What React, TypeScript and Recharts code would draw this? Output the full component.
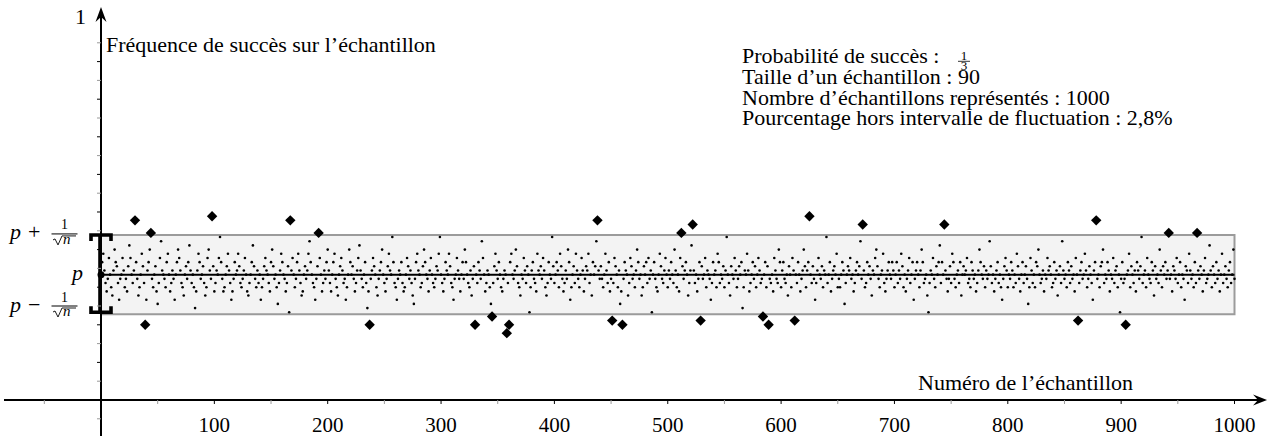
import React from 'react';
import { ScatterChart, Scatter, XAxis, YAxis, ReferenceArea, ReferenceLine, ReferenceDot, Customized } from 'recharts';

const FONT = '"Liberation Serif", "Times New Roman", serif';

const SAMPLE_SIZE = 90;
const PROBA = 1 / 3;
const HALF = 1 / Math.sqrt(SAMPLE_SIZE);
const LOW = PROBA - HALF;
const HIGH = PROBA + HALF;

// number of successes in each sample of 90 draws, samples 1..1000
const successes: number[] = [
    33, 35, 31, 28, 26, 29, 34, 30, 27, 25, 31, 36, 33, 32, 28, 24, 29, 30, 34, 31,
    27, 29, 26, 32, 37, 34, 30, 28, 31, 43, 33, 29, 25, 27, 30, 35, 32, 28, 18, 24,
    31, 33, 36, 40, 29, 27, 30, 32, 26, 23, 28, 34, 38, 31, 30, 29, 27, 33, 35, 30,
    26, 28, 31, 29, 24, 30, 33, 36, 34, 31, 28, 27, 25, 30, 32, 29, 33, 37, 31, 28,
    30, 27, 22, 26, 31, 35, 33, 29, 30, 32, 28, 25, 27, 34, 36, 31, 29, 44, 32, 26,
    28, 31, 30, 34, 39, 33, 29, 26, 27, 30, 32, 35, 31, 28, 24, 26, 29, 33, 30, 31,
    35, 32, 28, 27, 29, 31, 34, 30, 26, 25, 28, 30, 33, 37, 32, 29, 27, 31, 28, 30,
    24, 27, 29, 32, 34, 31, 30, 28, 26, 33, 36, 32, 29, 30, 27, 23, 28, 31, 35, 33,
    30, 29, 26, 28, 32, 21, 43, 31, 34, 30, 27, 29, 33, 35, 31, 28, 25, 26, 30, 32,
    29, 31, 35, 38, 33, 30, 28, 27, 24, 29, 32, 40, 34, 30, 26, 28, 31, 29, 33, 36,
    31, 28, 26, 30, 33, 35, 29, 27, 25, 30, 32, 34, 31, 28, 29, 24, 27, 30, 36, 33,
    30, 32, 29, 26, 28, 31, 34, 37, 31, 29, 27, 30, 33, 28, 22, 26, 18, 29, 31, 34,
    32, 30, 27, 25, 29, 31, 33, 36, 30, 28, 26, 29, 32, 35, 31, 30, 39, 33, 28, 27,
    24, 29, 31, 30, 33, 28, 26, 27, 30, 34, 32, 29, 31, 28, 25, 23, 29, 33, 35, 31,
    30, 27, 28, 32, 36, 33, 30, 29, 26, 31, 34, 30, 28, 27, 29, 32, 31, 35, 39, 30,
    28, 26, 29, 33, 31, 30, 35, 32, 28, 27, 24, 29, 30, 34, 31, 29, 26, 30, 33, 29,
    36, 33, 30, 28, 27, 31, 25, 29, 32, 18, 30, 28, 33, 31, 29, 38, 34, 30, 26, 28,
    31, 30, 27, 23, 20, 28, 32, 35, 31, 29, 33, 30, 27, 26, 29, 31, 30, 16, 28, 18,
    33, 35, 30, 29, 31, 36, 32, 28, 27, 25, 30, 29, 34, 31, 28, 32, 30, 21, 27, 31,
    33, 29, 28, 26, 35, 31, 30, 32, 29, 34, 31, 27, 25, 28, 33, 30, 29, 39, 32, 28,
    30, 33, 31, 27, 35, 32, 29, 26, 28, 31, 29, 36, 33, 24, 27, 30, 32, 28, 35, 31,
    29, 27, 30, 34, 31, 26, 29, 32, 31, 35, 28, 30, 25, 33, 30, 32, 38, 43, 31, 29,
    32, 29, 27, 30, 35, 31, 28, 33, 26, 29, 19, 28, 34, 32, 30, 27, 31, 23, 26, 18,
    29, 33, 31, 30, 25, 28, 34, 32, 29, 30, 27, 31, 36, 33, 29, 30, 25, 27, 32, 30,
    33, 28, 34, 29, 31, 21, 30, 33, 29, 27, 26, 30, 35, 32, 29, 28, 31, 34, 30, 27,
    31, 29, 33, 30, 28, 36, 31, 27, 30, 26, 34, 40, 32, 29, 31, 33, 30, 25, 28, 31,
    37, 42, 31, 28, 30, 26, 29, 33, 19, 32, 29, 30, 34, 27, 31, 30, 29, 24, 28, 33,
    30, 31, 27, 35, 33, 28, 30, 29, 32, 27, 31, 39, 30, 28, 25, 32, 30, 29, 34, 31,
    27, 29, 32, 30, 33, 22, 27, 31, 30, 35, 31, 26, 28, 30, 33, 29, 32, 27, 30, 34,
    31, 28, 29, 20, 30, 33, 27, 32, 18, 29, 28, 30, 26, 34, 31, 29, 28, 36, 33, 27,
    31, 33, 29, 28, 30, 25, 32, 30, 27, 34, 31, 19, 30, 28, 33, 30, 26, 29, 31, 36,
    32, 27, 31, 33, 44, 30, 28, 32, 29, 24, 28, 31, 34, 30, 29, 32, 27, 31, 30, 39,
    28, 30, 33, 26, 29, 31, 32, 30, 35, 27, 29, 27, 30, 33, 31, 23, 28, 30, 32, 31,
    34, 29, 30, 26, 28, 31, 33, 30, 32, 38, 29, 42, 31, 27, 28, 33, 30, 32, 29, 25,
    31, 30, 34, 36, 32, 29, 27, 30, 31, 35, 28, 26, 29, 31, 33, 30, 29, 33, 31, 27,
    30, 33, 28, 31, 29, 35, 32, 27, 30, 26, 29, 31, 34, 28, 30, 33, 24, 29, 31, 33,
    30, 27, 31, 36, 33, 28, 29, 30, 25, 21, 28, 31, 30, 34, 29, 27, 32, 30, 33, 37,
    28, 33, 30, 42, 31, 29, 26, 29, 32, 28, 35, 33, 29, 27, 30, 31, 28, 33, 25, 30,
    32, 30, 31, 34, 28, 29, 27, 33, 31, 29, 30, 26, 28, 31, 36, 33, 30, 29, 32, 27,
    31, 29, 30, 38, 32, 28, 30, 26, 29, 31, 33, 28, 30, 27, 24, 29, 32, 34, 31, 27,
    30, 29, 33, 31, 27, 30, 28, 35, 32, 29, 26, 30, 33, 28, 30, 32, 29, 23, 27, 34,
    31, 28, 30, 27, 33, 32, 36, 30, 28, 29, 31, 26, 30, 29, 34, 31, 32, 30, 27, 28,
    33, 29, 31, 25, 30, 32, 28, 38, 31, 29, 30, 27, 33, 31, 28, 32, 29, 30, 26, 34,
    30, 19, 28, 31, 33, 29, 30, 35, 31, 27, 29, 32, 30, 28, 24, 31, 33, 43, 29, 30,
    27, 32, 33, 36, 28, 30, 29, 33, 31, 26, 30, 29, 34, 28, 31, 32, 27, 30, 21, 29,
    33, 28, 29, 18, 30, 31, 35, 27, 32, 30, 28, 31, 26, 33, 31, 29, 32, 39, 28, 30,
    31, 27, 34, 30, 29, 28, 33, 31, 25, 32, 29, 30, 28, 36, 31, 27, 32, 30, 33, 29,
    31, 40, 29, 30, 26, 32, 31, 29, 34, 28, 30, 33, 27, 30, 29, 24, 32, 31, 28, 35,
    31, 29, 30, 27, 33, 28, 40, 31, 29, 32, 30, 26, 31, 34, 28, 29, 30, 37, 31, 27,
    32, 30, 28, 33, 29, 31, 26, 30, 35, 28, 30, 32, 29, 27, 31, 33, 28, 30, 36, 29,
];

const xMajorTicks = [100, 200, 300, 400, 500, 600, 700, 800, 900, 1000];
const xMinorTicks = [-50, 50, 150, 250, 350, 450, 550, 650, 750, 850, 950];
const yMajorTicks = [0.1, 0.2, 0.3, 0.4, 0.5, 0.6, 0.7, 0.8, 0.9];
const yMinorTicks = [-0.05, 0.05, 0.15, 0.25, 0.35, 0.45, 0.55, 0.65, 0.75, 0.85, 0.95];

// visible window (the axes run past the data on both sides)
const X_MIN = -89.105;
const X_MAX = 1032.2;
const Y_MIN = -0.095745;
const Y_MAX = 1.06383;

const points = successes.map((k, i) => ({ n: i + 1, f: k / SAMPLE_SIZE }));
const inside = points.filter((p) => Math.abs(p.f - PROBA) <= HALF);
const outside = points.filter((p) => Math.abs(p.f - PROBA) > HALF);
const outsidePct = ((outside.length / points.length) * 100).toFixed(1).replace('.', ',') + '%';

const infoLines = [
    'Probabilité de succès :',
    `Taille d’un échantillon : ${SAMPLE_SIZE}`,
    `Nombre d’échantillons représentés : ${points.length}`,
    `Pourcentage hors intervalle de fluctuation : ${outsidePct}`,
];

const SmallDot = (props: any) => <circle cx={props.cx} cy={props.cy} r={1.3} fill="#000" />;

const Diamond = (props: any) => {
    const { cx, cy } = props;
    const d = 5.2;
    return <polygon points={`${cx},${cy - d} ${cx + d},${cy} ${cx},${cy + d} ${cx - d},${cy}`} fill="#000" />;
};

const XAxisArrow = (props: any) => {
    const { x1, y1, x2 } = props;
    return (
        <g>
            <line x1={x1} y1={y1} x2={x2 - 6} y2={y1} stroke="#000" strokeWidth={2} />
            <path d={`M${x2},${y1} L${x2 - 14},${y1 - 5.5} L${x2 - 9},${y1} L${x2 - 14},${y1 + 5.5} Z`} fill="#000" />
        </g>
    );
};

const YAxisArrow = (props: any) => {
    const { x1, y1, y2 } = props;
    return (
        <g>
            <line x1={x1} y1={y1} x2={x1} y2={y2 + 6} stroke="#000" strokeWidth={2} />
            <path d={`M${x1},${y2} L${x1 - 5.5},${y2 + 15} L${x1},${y2 + 10} L${x1 + 5.5},${y2 + 15} Z`} fill="#000" />
        </g>
    );
};

const Bracket = (props: any) => {
    const { x1, y1, y2 } = props;
    const top = Math.min(y1, y2);
    const bot = Math.max(y1, y2) - 2;
    return (
        <g stroke="#000" strokeWidth={3.6} fill="none">
            <line x1={x1 - 1} y1={top} x2={x1 - 1} y2={bot} />
            <path d={`M${x1 - 10},${top + 6} V${top} H${x1 + 10} V${top + 6}`} />
            <path d={`M${x1 - 10},${bot - 6} V${bot} H${x1 + 10} V${bot - 6}`} />
        </g>
    );
};

const xTick = (major: boolean) => (props: any) => (
    <g>
        <line x1={props.cx} y1={props.cy} x2={props.cx} y2={props.cy + 4} stroke={major ? '#000' : '#999'} strokeWidth={1} />
        {major && (
            <text x={props.cx} y={props.cy + 32.5} textAnchor="middle" fontFamily={FONT} fontSize={21} fill="#000">
                {props.label}
            </text>
        )}
    </g>
);

const yTick = (major: boolean) => (props: any) => (
    <line x1={props.cx - 4} y1={props.cy} x2={props.cx} y2={props.cy} stroke={major ? '#000' : '#999'} strokeWidth={1} />
);

// p ± 1/sqrt(n) written with a stacked fraction
const fluctLabel = (sign: string, shift: number) => (props: any) => {
    const { cx, cy } = props;
    const b = cy + shift;
    return (
        <g fontFamily={FONT}>
            <text x={cx - 91} y={b} fontSize={22} fontStyle="italic" fill="#000">p</text>
            <text x={cx - 73} y={b} fontSize={22} fill="#000">{sign}</text>
            <text x={cx - 36.5} y={b - 10} fontSize={14} textAnchor="middle" fill="#000">1</text>
            <line x1={cx - 49.5} x2={cx - 23.5} y1={b - 5.5} y2={b - 5.5} stroke="#000" strokeWidth={1} />
            <path d={`M${cx - 48},${b + 0.5} L${cx - 46},${b - 0.5} L${cx - 43},${b + 5.5} L${cx - 39},${b - 3.5} H${cx - 25}`} stroke="#000" strokeWidth={0.9} fill="none" />
            <text x={cx - 38} y={b + 4.5} fontSize={15} fontStyle="italic" fill="#000">n</text>
        </g>
    );
};

const pLabel = (props: any) => (
    <text x={props.cx - 18} y={props.cy + 5} textAnchor="end" fontFamily={FONT} fontSize={22} fontStyle="italic" fill="#000">p</text>
);

const oneLabel = (props: any) => (
    <text x={props.cx - 15} y={props.cy} textAnchor="end" fontFamily={FONT} fontSize={22} fill="#000">1</text>
);

function Annotations() {
    return (
        <g fontFamily={FONT} fontSize={22}>
            <text x={106} y={52} fill="#000">Fréquence de succès sur l’échantillon</text>
            <text x={918} y={390} fill="#000">Numéro de l’échantillon</text>
            <text x={742} y={63} fill="#000">{infoLines[0]}</text>
            <text x={964} y={59.7} fontSize={13} textAnchor="middle" fill="#000">1</text>
            <line x1={958} x2={970} y1={61.3} y2={61.3} stroke="#000" strokeWidth={0.8} />
            <text x={964} y={70} fontSize={13} textAnchor="middle" fill="#000">3</text>
            <text x={742} y={84} fill="#000">{infoLines[1]}</text>
            <text x={742} y={104.5} fill="#000">{infoLines[2]}</text>
            <text x={742} y={125} fill="#000">{infoLines[3]}</text>
        </g>
    );
}

export default function App() {
    return (
        <div style={{ position: 'absolute', left: 0, top: 0, width: 1271, height: 436, background: '#ffffff' }}>
            <ScatterChart width={1271} height={436} margin={{ top: 0, right: 0, bottom: 0, left: 0 }}>
                <XAxis type="number" dataKey="n" domain={[X_MIN, X_MAX]} allowDataOverflow hide />
                <YAxis type="number" dataKey="f" domain={[Y_MIN, Y_MAX]} allowDataOverflow hide />

                <ReferenceArea x1={0} x2={1000} y1={LOW} y2={HIGH} fill="#f3f3f3" fillOpacity={1} stroke="#9b9b9b" strokeWidth={2} ifOverflow="visible" />

                {xMinorTicks.map((t) => (
                    <ReferenceDot key={`xm-${t}`} x={t} y={0} shape={xTick(false)} />
                ))}
                {xMajorTicks.map((t) => (
                    <ReferenceDot key={`xM-${t}`} x={t} y={0} shape={(p: any) => xTick(true)({ ...p, label: String(t) })} />
                ))}
                {yMinorTicks.map((t) => (
                    <ReferenceDot key={`ym-${t}`} x={0} y={t} shape={yTick(false)} />
                ))}
                {yMajorTicks.map((t) => (
                    <ReferenceDot key={`yM-${t}`} x={0} y={t} shape={yTick(true)} />
                ))}

                <ReferenceLine segment={[{ x: 0, y: PROBA }, { x: 1000, y: PROBA }]} stroke="#000" strokeWidth={2} ifOverflow="visible" />

                <Scatter data={inside} shape={SmallDot} isAnimationActive={false} />
                <Scatter data={outside} shape={Diamond} isAnimationActive={false} />

                <ReferenceLine segment={[{ x: -85.58, y: 0 }, { x: 1028.7, y: 0 }]} shape={XAxisArrow} ifOverflow="visible" />
                <ReferenceLine segment={[{ x: 0, y: Y_MIN }, { x: 0, y: 1.0452 }]} shape={YAxisArrow} ifOverflow="visible" />
                <ReferenceLine segment={[{ x: 0, y: LOW }, { x: 0, y: HIGH }]} shape={Bracket} ifOverflow="visible" />
                <ReferenceDot x={0} y={PROBA} r={3.5} fill="#000" stroke="none" />

                <ReferenceDot x={0} y={1} shape={oneLabel} />
                <ReferenceDot x={0} y={PROBA} shape={pLabel} />
                <ReferenceDot x={0} y={HIGH} shape={fluctLabel('+', 4.4)} />
                <ReferenceDot x={0} y={LOW} shape={fluctLabel('−', -2.8)} />

                <Customized component={<Annotations />} />
            </ScatterChart>
        </div>
    );
}
